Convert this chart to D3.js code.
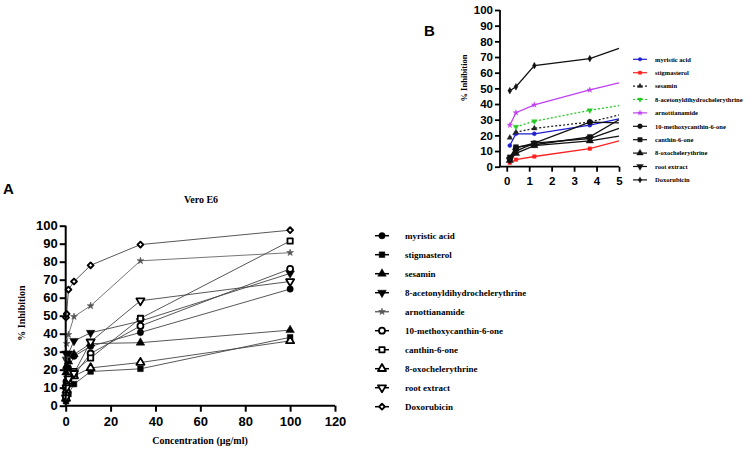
<!DOCTYPE html>
<html><head><meta charset="utf-8">
<script src="https://cdn.jsdelivr.net/npm/d3@7"></script>
<style>
body{margin:0;background:#fff;}
svg{display:block;}
.ser{font-family:"Liberation Serif","Times New Roman",serif;font-weight:bold;fill:#000;}
</style></head>
<body>
<svg id="c" width="749" height="451"></svg>
<script>
// ---------- DATA ----------
const seriesNames = ["myristic acid","stigmasterol","sesamin","8-acetonyldihydrochelerythrine","arnottianamide","10-methoxycanthin-6-one","canthin-6-one","8-oxochelerythrine","root extract","Doxorubicin"];
// Panel A (Vero E6) concentrations, µg/ml
const concA = [0.137, 0.41, 1.23, 3.7, 11.1, 33.3, 100];
const myristicA   = [13.5, 21, 21, 27.5, 33, 40.7, 64.8];
const stigmaA     = [2.5, 4.5, 6.5, 12, 19, 20.5, 38];
const sesaminA    = [18.5, 22, 24.5, 28.5, 34.5, 35, 42];
const acetonylA   = [29, 25.5, 29, 36, 40.5, 47, 73.5];
const arnotA      = [26.5, 34.5, 39.5, 49.5, 55.5, 80.5, 85];
const methoxyA    = [10, 12, 14.5, 17, 29, 44.3, 76];
const canthinA    = [6, 12.5, 14, 19, 26.5, 48.5, 91.5];
const oxoA        = [4, 8.5, 13.5, 16.5, 21, 24, 36];
const rootA       = [4.5, 10, 15, 18, 35.5, 58.3, 69];
const doxoA       = [49, 51, 64.5, 69, 78, 89.5, 97.5];
const xTicksA = [0, 20, 40, 60, 80, 100, 120];
const yTicks = [0,10,20,30,40,50,60,70,80,90,100];

// Panel B (low concentration zoom)
const concB = [0.137, 0.41, 1.23, 3.7];
const edgeXB = 5;
const myristicB = [13.5, 21, 21, 26.5];
const stigmaB   = [2.5, 4.5, 6.5, 11.5];
const sesaminB  = [18.5, 22, 24.5, 28.5];
const acetonylB = [null, 25.5, 29, 36];
const arnotB    = [26.5, 34.5, 39.5, 49];
const methoxyB  = [5, 12, 15, 28.5];
const canthinB  = [6, 12.5, 14, 19];
const oxoB      = [4, 8.5, 13.5, 16.5];
const rootB     = [4.5, 10, 15, 18];
const doxoB     = [48.5, 51, 64.5, 69];
const edgeB     = [30.5, 16.5, 33, 39, 53.5, 28, 30, 19.5, 24.5, 75.5]; // value where each line meets x = 5
const xTicksB = [0,1,2,3,4,5];

// ---------- DRAW ----------
const svg = d3.select("#c");
svg.append("rect").attr("width",749).attr("height",451).attr("fill","#fff");
const SANS = "Liberation Sans, Arial, sans-serif";

const symA = [d3.symbolCircle,d3.symbolSquare,d3.symbolTriangle,"down",d3.symbolStar,d3.symbolCircle,d3.symbolSquare,d3.symbolTriangle,"down","rhomb"];
const openA = [false,false,false,false,false,true,true,true,true,true];
function symPath(t,size){
  if(t==="down") return d3.symbol(d3.symbolTriangle,size)();
  if(t==="rhomb") return d3.symbol(d3.symbolSquare,size)();
  return d3.symbol(t,size)();
}
function marker(g,t,size,x,y,fill,stroke,sw){
  const rot = t==="down" ? " rotate(180)" : (t==="rhomb" ? " rotate(45)" : "");
  g.append("path").attr("d",symPath(t,size))
   .attr("transform",`translate(${x},${y})${rot}`)
   .attr("fill",fill).attr("stroke",stroke).attr("stroke-width",sw).attr("stroke-linejoin","round");
}
function markerA(g,k,x,y){
  if(k===4) marker(g,symA[k],14,x,y,"#555","#555",0.6);
  else if(k===9) marker(g,symA[k],17,x,y,"#fff","#000",1.9);
  else if(openA[k]) marker(g,symA[k],28,x,y,"#fff","#000",1.8);
  else marker(g,symA[k],32,x,y,"#000","#000",0.5);
}

// ===== Panel A =====
const xA = d3.scaleLinear().domain([0,120]).range([65.7,335]);
const yA = d3.scaleLinear().domain([0,100]).range([405.7,225.7]);
const gA = svg.append("g");
const dataA = [myristicA,stigmaA,sesaminA,acetonylA,arnotA,methoxyA,canthinA,oxoA,rootA,doxoA];
const lineA = d3.line().x((d,i)=>xA(concA[i])).y(d=>yA(d));
dataA.forEach((vals,k)=>{
  gA.append("path").attr("d",lineA(vals)).attr("fill","none")
    .attr("stroke",k===4?"#666":"#444").attr("stroke-width",0.9);
});
dataA.forEach((vals,k)=>{
  vals.forEach((v,i)=>markerA(gA,k,xA(concA[i]),yA(v)));
});
const axYA = gA.append("g").attr("transform","translate(65.7,0)")
  .call(d3.axisLeft(yA).tickValues(yTicks).tickSize(6).tickPadding(2).tickFormat(d3.format("d")));
const axXA = gA.append("g").attr("transform","translate(0,405.7)")
  .call(d3.axisBottom(xA).tickValues(xTicksA).tickSize(6).tickPadding(5).tickFormat(d3.format("d")));
[axYA,axXA].forEach(a=>{
  a.selectAll("path,line").attr("stroke","#000").attr("stroke-width",2);
  a.selectAll("text").attr("fill","#000").style("font-family",SANS).style("font-weight","bold").style("font-size","13px");
});
axYA.select(".domain").attr("d","M0,405.7V225.7");
axXA.select(".domain").attr("d","M65.7,0H335");

svg.append("text").attr("class","ser").attr("x",201).attr("y",203).attr("text-anchor","middle")
  .style("font-size","10px").text("Vero E6");
svg.append("text").attr("class","ser").attr("x",200).attr("y",444).attr("text-anchor","middle")
  .style("font-size","10px").text("Concentration (µg/ml)");
svg.append("text").attr("class","ser").attr("transform","translate(25,313) rotate(-90)")
  .attr("text-anchor","middle").style("font-size","10px").text("% Inhibition");
svg.append("text").attr("x",3).attr("y",194).style("font-family",SANS).style("font-weight","bold")
  .style("font-size","15px").text("A");

// legend A
const legA = svg.append("g");
seriesNames.forEach((n,k)=>{
  const y = 235.7 + k*19;
  legA.append("line").attr("x1",375).attr("x2",389).attr("y1",y).attr("y2",y)
    .attr("stroke",k===4?"#666":"#000").attr("stroke-width",1.5);
  markerA(legA,k,382,y);
  legA.append("text").attr("class","ser").attr("x",405).attr("y",y).attr("dy","0.35em")
    .style("font-size","9px").text(n);
});

// ===== Panel B =====
const xB = d3.scaleLinear().domain([-0.3,5]).range([500,619]);
const yB = d3.scaleLinear().domain([0,100]).range([166.7,10]);
const gB = svg.append("g");
const dataB = [myristicB,stigmaB,sesaminB,acetonylB,arnotB,methoxyB,canthinB,oxoB,rootB,doxoB];
const colB = ["#1f1fd0","#ff2020","#222","#22cc22","#c040f0","#111","#111","#111","#111","#111"];
const dashB = [null,null,"2,2","2,2",null,null,null,null,null,null];
const symB = [d3.symbolCircle,d3.symbolSquare,d3.symbolTriangle,"down",d3.symbolStar,d3.symbolCircle,d3.symbolSquare,d3.symbolTriangle,"down",d3.symbolDiamond];
const lineB = d3.line().defined(d=>d[1]!=null).x(d=>xB(d[0])).y(d=>yB(d[1]));
dataB.forEach((vals,k)=>{
  const pts = vals.map((v,i)=>[concB[i],v]).concat([[edgeXB,edgeB[k]]]);
  gB.append("path").attr("d",lineB(pts)).attr("fill","none")
    .attr("stroke",colB[k]).attr("stroke-width",1.3).attr("stroke-dasharray",dashB[k]);
});
function sizeB(k){ return (k>=5 && k<=8) ? 24 : (k===4 ? 10 : 13); }
dataB.forEach((vals,k)=>{
  vals.forEach((v,i)=>{
    if(v==null) return;
    marker(gB,symB[k],sizeB(k),xB(concB[i]),yB(v),colB[k],colB[k],0.4);
  });
});
const axYB = gB.append("g").attr("transform","translate(500,0)")
  .call(d3.axisLeft(yB).tickValues(yTicks).tickSize(5).tickPadding(2).tickFormat(d3.format("d")));
const axXB = gB.append("g").attr("transform","translate(0,166.7)")
  .call(d3.axisBottom(xB).tickValues(xTicksB).tickSize(5).tickPadding(5).tickFormat(d3.format("d")));
[axYB,axXB].forEach(a=>{
  a.selectAll("path,line").attr("stroke","#000").attr("stroke-width",1.8);
  a.selectAll("text").attr("fill","#000").style("font-family",SANS).style("font-weight","bold").style("font-size","11.5px");
});
axYB.select(".domain").attr("d","M0,166.7V10");
axXB.select(".domain").attr("d","M500,0H619");
svg.append("text").attr("class","ser").attr("transform","translate(467,78) rotate(-90)")
  .attr("text-anchor","middle").style("font-size","8.5px").text("% Inhibition");
svg.append("text").attr("x",424).attr("y",36).style("font-family",SANS).style("font-weight","bold")
  .style("font-size","15px").text("B");

// legend B
const legB = svg.append("g");
seriesNames.forEach((n,k)=>{
  const y = 59.3 + k*13.4;
  legB.append("line").attr("x1",633).attr("x2",647).attr("y1",y).attr("y2",y)
    .attr("stroke",colB[k]).attr("stroke-width",1.2).attr("stroke-dasharray",dashB[k]);
  marker(legB,symB[k],sizeB(k)*0.8,640,y,colB[k],colB[k],0.4);
  legB.append("text").attr("class","ser").attr("x",655).attr("y",y).attr("dy","0.35em")
    .style("font-size","6.5px").text(n);
});
</script>
</body></html>
